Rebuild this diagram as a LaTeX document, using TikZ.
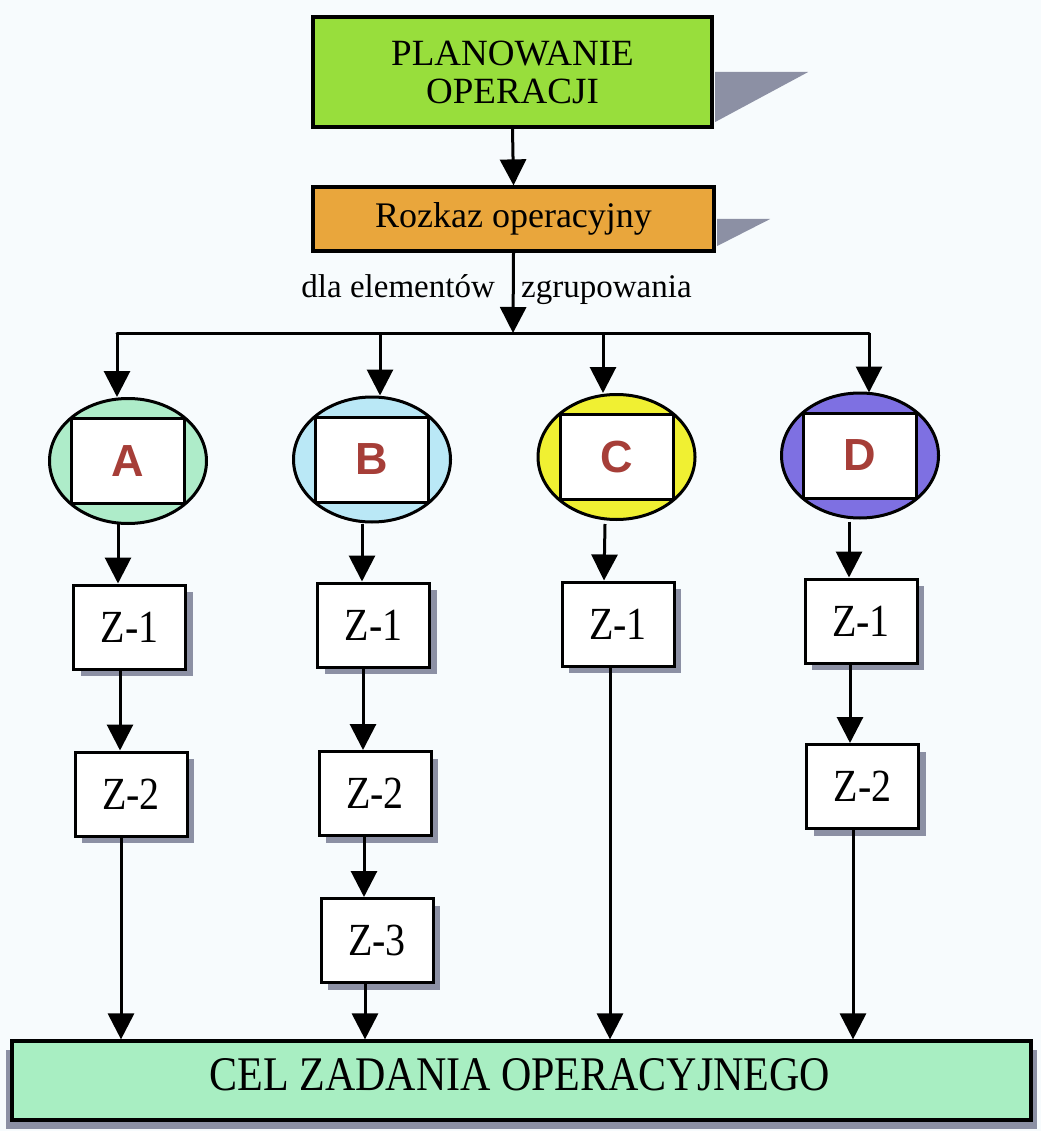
\documentclass[tikz,border=0pt]{standalone}
\usepackage{fontspec}
\setmainfont{Liberation Serif}
\newfontfamily\letterfont{Liberation Sans}
\usetikzlibrary{arrows.meta,shapes.geometric,shadows}

\definecolor{paper}{HTML}{F7FBFD}
\definecolor{planfill}{HTML}{98DE3C}
\definecolor{orderfill}{HTML}{E9A63C}
\definecolor{goalfill}{HTML}{A8EEC2}
\definecolor{afill}{HTML}{AEECC9}
\definecolor{bfill}{HTML}{BAE8F6}
\definecolor{cfill}{HTML}{F0F032}
\definecolor{dfill}{HTML}{7E70E2}
\definecolor{lettercol}{HTML}{A63E38}
\definecolor{shadowgray}{HTML}{8C90A4}

\tikzset{
  frame/.style={draw=black, line width=3.2pt, inner sep=0pt},
  unitell/.style={ellipse, draw=black, line width=3pt, minimum width=157pt, minimum height=125pt, inner sep=0pt},
  unitrect/.style={rectangle, draw=black, line width=3pt, fill=white, minimum width=113pt, minimum height=85pt,
                   inner sep=0pt, font=\letterfont\bfseries\fontsize{45}{45}\selectfont, text=lettercol},
  taskbox/.style={rectangle, draw=black, line width=3pt, fill=white, minimum width=112pt, minimum height=84pt,
                  inner sep=0pt, font=\fontsize{40}{40}\selectfont,
                  general shadow={fill=shadowgray, shadow xshift=7pt, shadow yshift=-7pt}},
  link/.style={line width=3pt, draw=black},
  arr/.style={link, -{Triangle[width=26pt,length=26pt]}},
}
\newcommand{\tall}[1]{\scalebox{1}[1.15]{#1}}

\begin{document}
\begin{tikzpicture}[x=1pt,y=-1pt]
  \fill[paper] (0,0) rectangle (1041,1131);
  \useasboundingbox (0,0) rectangle (1041,1131);

  % headline boxes
  \node[frame, fill=planfill, minimum width=399pt, minimum height=110pt, align=center,
        font=\fontsize{37}{38}\selectfont] (plan) at (512.5,72) {PLANOWANIE\\OPERACJI};
  \fill[shadowgray] ([xshift=1.6pt]plan.east) -- ++(93,0) -- ++(-93,50) -- cycle;

  \node[frame, fill=orderfill, minimum width=401pt, minimum height=64pt,
        font=\fontsize{36}{38}\selectfont] (order) at (513.5,219) {Rozkaz operacyjny};
  \fill[shadowgray] ([xshift=1.6pt]order.east) -- ++(53,0) -- ++(-53,27) -- cycle;

  \node[anchor=base east, inner sep=0pt, font=\fontsize{33}{33}\selectfont] (lblL) at (495,298) {dla elementów};
  \node[anchor=base west, inner sep=0pt, font=\fontsize{33}{33}\selectfont] (lblR) at (521,298) {zgrupowania};

  % goal box
  \fill[shadowgray] (6,1050) rectangle (1037,1129);
  \node[frame, fill=goalfill, minimum width=1019pt, minimum height=79pt] (goal) at (521.5,1080.5) {};
  \node[font=\fontsize{42}{42}\selectfont, inner sep=0pt] (goaltxt) at (520,1075) {\tall{CEL ZADANIA OPERACYJNEGO}};

  % grouping elements
  \node[unitell, fill=afill] (ea) at (128,461) {};
  \node[unitrect] (ra) at (128,461) {A};
  \node[unitell, fill=bfill] (eb) at (372,459.5) {};
  \node[unitrect] (rb) at (372,459.5) {B};
  \node[unitell, fill=cfill] (ec) at (616.5,457) {};
  \node[unitrect] (rc) at (616.5,457) {C};
  \node[unitell, fill=dfill] (ed) at (860,455.5) {};
  \node[unitrect] (rd) at (860,455.5) {D};

  % tasks
  \node[taskbox] (a1) at (129.5,627) {\tall{Z-1}};
  \node[taskbox] (a2) at (131,794) {\tall{Z-2}};
  \node[taskbox] (b1) at (373.5,625) {\tall{Z-1}};
  \node[taskbox] (b2) at (375,793.5) {\tall{Z-2}};
  \node[taskbox] (b3) at (377,940.5) {\tall{Z-3}};
  \node[taskbox] (c1) at (618,624) {\tall{Z-1}};
  \node[taskbox] (d1) at (861,621) {\tall{Z-1}};
  \node[taskbox] (d2) at (862.5,786.5) {\tall{Z-2}};

  % distribution line
  \coordinate (bus) at (513,333);
  \coordinate (busA) at (117,333);
  \coordinate (busB) at (380,333);
  \coordinate (busC) at (603,333);
  \coordinate (busD) at (869,333);

  \draw[arr] (plan.south) -- (order.north);
  \draw[arr] (order.south) -- (bus);
  \draw[link, line cap=round] (busA) -- (busD);
  \draw[arr] (busA) -- (busA |- ea.north);
  \draw[arr] (busB) -- (busB |- eb.north);
  \draw[arr] (busC) -- (busC |- ec.north);
  \draw[arr] (busD) -- ([yshift=-1pt]busD |- ed.north);

  % column A
  \draw[arr] ([yshift=1pt]118,0 |- ea.south) -- (118,0 |- a1.north);
  \draw[arr] (120,0 |- a1.south) -- (120,0 |- a2.north);
  \draw[arr] (121,0 |- a2.south) -- (121,0 |- goal.north);
  % column B
  \draw[arr] (362,0 |- eb.south) -- (362,0 |- b1.north);
  \draw[arr] (363,0 |- b1.south) -- (363,0 |- b2.north);
  \draw[arr] (364,0 |- b2.south) -- (364,0 |- b3.north);
  \draw[arr] (365,0 |- b3.south) -- (365,0 |- goal.north);
  % column C
  \draw[arr] ([yshift=-3pt]605,0 |- ec.south) -- (604,0 |- c1.north);
  \draw[arr] (610,0 |- c1.south) -- (610,0 |- goal.north);
  % column D
  \draw[arr] ([yshift=-2pt]849,0 |- ed.south) -- (849,0 |- d1.north);
  \draw[arr] (850,0 |- d1.south) -- (850,0 |- d2.north);
  \draw[arr] (853,0 |- d2.south) -- (853,0 |- goal.north);
\end{tikzpicture}
\end{document}
